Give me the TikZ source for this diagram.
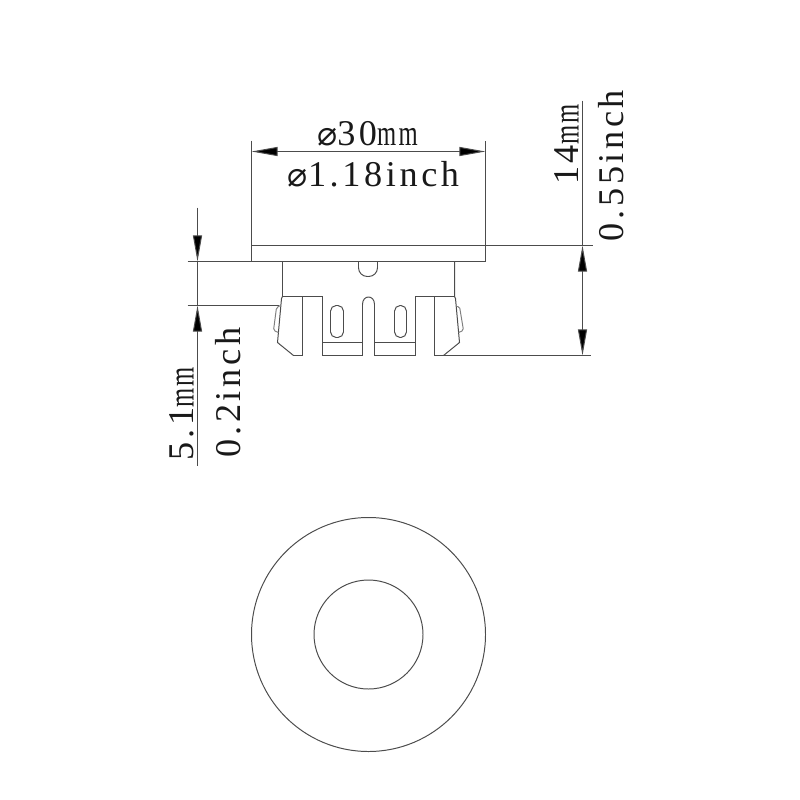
\documentclass[tikz,border=0pt]{standalone}
\usepackage{fontspec}
\usepackage{graphicx}
\usetikzlibrary{arrows.meta}
\setmainfont[LetterSpace=10]{Liberation Serif}
\newfontfamily\symfont{DejaVu Sans}
\newcommand{\dia}{{\symfont\fontsize{9.5}{9.5}\selectfont ⌀}}
\newcommand{\mmtxt}{\scalebox{0.68}[1]{mm}}
\tikzset{
  part/.style={line width=0.28pt,draw=black!70},
  dimline/.style={line width=0.28pt,draw=black!70},
  dimtip/.style={-{Triangle[length=0.26cm,width=0.09cm,fill=black]}},
  dimboth/.style={{Triangle[length=0.26cm,width=0.09cm,fill=black]}-{Triangle[length=0.26cm,width=0.09cm,fill=black]}},
  dimtext/.style={inner sep=0pt,anchor=base,text=black!90,font=\fontsize{10.3}{10.3}\selectfont}
}
\begin{document}
\begin{tikzpicture}[x=0.01cm,y=-0.01cm]

\useasboundingbox (-0.5,-0.5) rectangle (799.5,799.5);

% dimension anchors
\coordinate (wid_l) at (251,151) ;
\coordinate (wid_r) at (485,151) ;
\coordinate (hgt_top) at (582,100) ;
\coordinate (hgt_a) at (582,245) ;
\coordinate (hgt_b) at (582,355) ;
\coordinate (gap_top) at (197,207) ;
\coordinate (gap_a) at (197,261) ;
\coordinate (gap_b) at (197,305) ;
\coordinate (gap_bot) at (197,465) ;

% upper rim
\draw[part] (251,140) -- (251,261) -- (485,261) -- (485,140) ;
\draw[part] (251,245) -- (592,245) ;
\draw[part] (187,261) -- (251,261) ;
\draw[part] (187,305) -- (278,305) ;

% body
\draw[part] (282,261) -- (282,296) -- (302,296) -- (302,355) -- (293,355) -- (277,342) -- (281,298) -- (282,296) ;
\draw[part] (454,261) -- (454,296) -- (434,296) -- (434,355) -- (443,355) -- (459,342) -- (455,298) -- (454,296) ;
\draw[part] (302,296) -- (322,296) -- (322,355) -- (362,355) -- (362,303) ;
\draw[part] (434,296) -- (415,296) -- (415,355) -- (374,355) -- (374,303) ;
\draw[part] (362,304) .. controls (362,294) and (374,294) .. (374,304) ;
\draw[part] (322,342) -- (362,342) ;
\draw[part] (374,342) -- (415,342) ;
\draw[part] (443,355) -- (590,355) ;

% notch and slots
\draw[part,rounded corners=2.5pt] (358,261) -- (358,276) -- (377,276) -- (377,261) ;
\draw[part,rounded corners=1.6pt] (330,305) rectangle (343,337) ;
\draw[part,rounded corners=1.6pt] (394,305) rectangle (406,337) ;

% clips
\draw[part,black!50,rounded corners=0.5pt] (280,305) -- (276,307) -- (273,330) -- (278,332) ;
\draw[part,black!50,rounded corners=0.5pt] (456,306) -- (459,306) -- (463,330) -- (458,332) ;

% dimensions
\draw[dimline,dimboth] (wid_l) -- (wid_r) ;
\draw[dimline] (hgt_top) -- (hgt_a) ;
\draw[dimline,dimboth] (hgt_a) -- (hgt_b) ;
\draw[dimline,dimtip] (gap_top) -- (gap_a) ;
\draw[dimline] (gap_a) -- (gap_b) ;
\draw[dimline,dimtip] (gap_bot) -- (gap_b) ;

\node[dimtext] (wid_mm) at (367,145) {\dia 30\mmtxt} ;
\node[dimtext] (wid_in) at (373,186) {\dia 1.18inch} ;
\node[dimtext,rotate=90] (hgt_mm) at (578,144) {14\mmtxt} ;
\node[dimtext,rotate=90] (hgt_in) at (623,165) {0.55inch} ;
\node[dimtext,rotate=90] (gap_mm) at (193,413) {5.1\mmtxt} ;
\node[dimtext,rotate=90] (gap_in) at (240,392) {0.2inch} ;

% plan view
\draw[part] (368,634) circle[radius=117] ;
\draw[part] (368,634) circle[radius=54.5] ;

\end{tikzpicture}
\end{document}
